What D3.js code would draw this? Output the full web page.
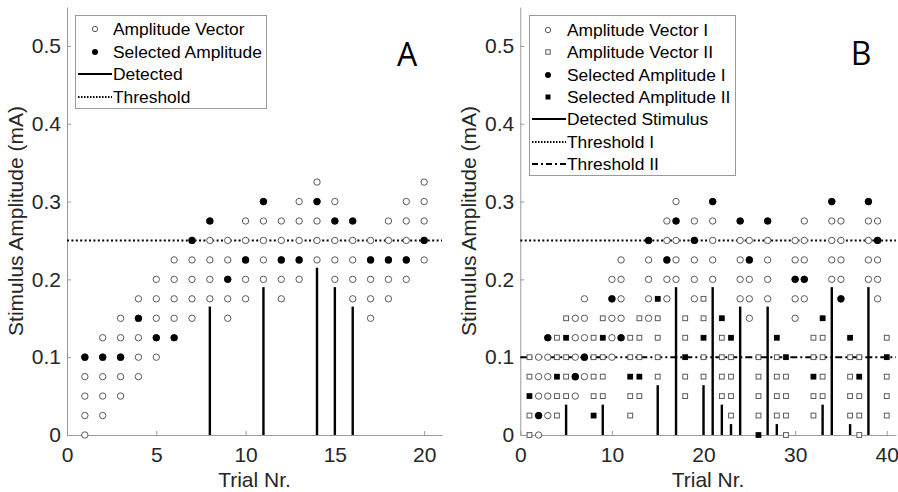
<!DOCTYPE html>
<html>
<head>
<meta charset="utf-8">
<script src="https://cdn.jsdelivr.net/npm/d3@7"></script>
<style>
  body { margin: 0; background: #fff; }
  text { font-family: "Liberation Sans", Arial, sans-serif; }
</style>
</head>
<body>
<svg id="chart" width="898" height="492"></svg>
<script>
// ---- data, panel A ----
const trialsA = [1, 2, 3, 4, 5, 6, 7, 8, 9, 10, 11, 12, 13, 14, 15, 16, 17, 18, 19, 20];
const vectorA = [
  [0, 0.025, 0.05, 0.075, 0.1],
  [0.025, 0.05, 0.075, 0.1, 0.125],
  [0.05, 0.075, 0.1, 0.125, 0.15],
  [0.075, 0.1, 0.125, 0.15, 0.175],
  [0.1, 0.125, 0.15, 0.175, 0.2],
  [0.125, 0.15, 0.175, 0.2, 0.225],
  [0.15, 0.175, 0.2, 0.225, 0.25],
  [0.175, 0.2, 0.225, 0.25, 0.275],
  [0.15, 0.175, 0.2, 0.225, 0.25],
  [0.175, 0.2, 0.225, 0.25, 0.275],
  [0.2, 0.225, 0.25, 0.275, 0.3],
  [0.175, 0.2, 0.225, 0.25, 0.275],
  [0.2, 0.225, 0.25, 0.275, 0.3],
  [0.225, 0.25, 0.275, 0.3, 0.325],
  [0.2, 0.225, 0.25, 0.275, 0.3],
  [0.175, 0.2, 0.225, 0.25, 0.275],
  [0.15, 0.175, 0.2, 0.225, 0.25],
  [0.175, 0.2, 0.225, 0.25, 0.275],
  [0.2, 0.225, 0.25, 0.275, 0.3],
  [0.225, 0.25, 0.275, 0.3, 0.325]
];
const selectedA = [0.1, 0.1, 0.1, 0.15, 0.125, 0.125, 0.25, 0.275, 0.2, 0.225,
  0.3, 0.225, 0.225, 0.3, 0.275, 0.275, 0.225, 0.225, 0.225, 0.25];
const detectedTrialsA = [8, 11, 14, 15, 16];
const detectedA = [0.165, 0.19, 0.215, 0.19, 0.165];
const thresholdA = 0.25;

// ---- data, panel B ----
const trialsB = [1, 2, 3, 4, 5, 6, 7, 8, 9, 10, 11, 12, 13, 14, 15, 16, 17, 18, 19, 20,
  21, 22, 23, 24, 25, 26, 27, 28, 29, 30, 31, 32, 33, 34, 35, 36, 37, 38, 39, 40];
const typeB = ["II", "I", "I", "II", "II", "I", "I", "II", "II", "I",
  "I", "II", "II", "I", "II", "I", "I", "II", "I", "II",
  "I", "II", "II", "I", "I", "II", "I", "II", "II", "I",
  "I", "II", "II", "I", "I", "II", "II", "I", "I", "II"];
const vectorB = [
  [0, 0.025, 0.05, 0.075, 0.1],
  [0, 0.025, 0.05, 0.075, 0.1],
  [0.025, 0.05, 0.075, 0.1, 0.125],
  [0.025, 0.05, 0.075, 0.1, 0.125],
  [0.05, 0.075, 0.1, 0.125, 0.15],
  [0.05, 0.075, 0.1, 0.125, 0.15],
  [0.075, 0.1, 0.125, 0.15, 0.175],
  [0.025, 0.05, 0.075, 0.1, 0.125],
  [0.05, 0.075, 0.1, 0.125, 0.15],
  [0.1, 0.125, 0.15, 0.175, 0.2],
  [0.125, 0.15, 0.175, 0.2, 0.225],
  [0.025, 0.05, 0.075, 0.1, 0.125],
  [0.05, 0.075, 0.1, 0.125, 0.15],
  [0.15, 0.175, 0.2, 0.225, 0.25],
  [0.075, 0.1, 0.125, 0.15, 0.175],
  [0.175, 0.2, 0.225, 0.25, 0.275],
  [0.2, 0.225, 0.25, 0.275, 0.3],
  [0.05, 0.075, 0.1, 0.125, 0.15],
  [0.175, 0.2, 0.225, 0.25, 0.275],
  [0.075, 0.1, 0.125, 0.15, 0.175],
  [0.2, 0.225, 0.25, 0.275, 0.3],
  [0.05, 0.075, 0.1, 0.125, 0.15],
  [0.025, 0.05, 0.075, 0.1, 0.125],
  [0.175, 0.2, 0.225, 0.25, 0.275],
  [0.15, 0.175, 0.2, 0.225, 0.25],
  [0, 0.025, 0.05, 0.075, 0.1],
  [0.175, 0.2, 0.225, 0.25, 0.275],
  [0.025, 0.05, 0.075, 0.1, 0.125],
  [0, 0.025, 0.05, 0.075, 0.1],
  [0.15, 0.175, 0.2, 0.225, 0.25],
  [0.175, 0.2, 0.225, 0.25, 0.275],
  [0.025, 0.05, 0.075, 0.1, 0.125],
  [0.05, 0.075, 0.1, 0.125, 0.15],
  [0.2, 0.225, 0.25, 0.275, 0.3],
  [0.175, 0.2, 0.225, 0.25, 0.275],
  [0.025, 0.05, 0.075, 0.1, 0.125],
  [0, 0.025, 0.05, 0.075, 0.1],
  [0.2, 0.225, 0.25, 0.275, 0.3],
  [0.175, 0.2, 0.225, 0.25, 0.275],
  [0.025, 0.05, 0.075, 0.1, 0.125]
];
const selectedB = [0.05, 0.025, 0.125, 0.075, 0.125, 0.075, 0.1, 0.025, 0.125, 0.175,
  0.125, 0.075, 0.075, 0.25, 0.175, 0.225, 0.275, 0.1, 0.25, 0.125,
  0.3, 0.15, 0.125, 0.275, 0.225, 0, 0.275, 0.125, 0.1, 0.2,
  0.2, 0.075, 0.15, 0.3, 0.175, 0.125, 0.075, 0.3, 0.25, 0.1];
const detectedTrialsB = [5, 9, 15, 17, 20, 21, 22, 23, 24, 27, 28, 33, 34, 36, 38];
const detectedB = [0.039, 0.039, 0.064, 0.19, 0.064, 0.19, 0.039, 0.014, 0.165, 0.165,
  0.014, 0.039, 0.19, 0.014, 0.19];
const thresholdB1 = 0.25;
const thresholdB2 = 0.1;

// ---- ticks ----
const yTicks = [0, 0.1, 0.2, 0.3, 0.4, 0.5];
const yTickLabels = ["0", "0.1", "0.2", "0.3", "0.4", "0.5"];
const xTicksA = [0, 5, 10, 15, 20];
const xTicksB = [0, 10, 20, 30, 40];

const svg = d3.select("#chart");
const plotTop = 7, plotBottom = 435;
const axisColor = "#9a9a9a";
const textColor = "#262626";
const openStroke = "#5a5a5a";

const y = d3.scaleLinear().domain([0, 0.55]).range([plotBottom, plotTop]);
const xA = d3.scaleLinear().domain([0, 21]).range([67, 442]);
const xB = d3.scaleLinear().domain([0, 41]).range([520.3, 895.9]);

function drawAxes(x, xTicks) {
  const g = svg.append("g");
  const ax = g.append("g")
    .attr("transform", `translate(0,${plotBottom})`)
    .call(d3.axisBottom(x).tickValues(xTicks).tickSize(-4).tickSizeOuter(0).tickPadding(12));
  const ay = g.append("g")
    .attr("transform", `translate(${x.range()[0]},0)`)
    .call(d3.axisLeft(y).tickValues(yTicks).tickFormat((d, i) => yTickLabels[i])
      .tickSize(-4).tickSizeOuter(0).tickPadding(6));
  [ax, ay].forEach(a => {
    a.select(".domain").attr("stroke", axisColor);
    a.selectAll(".tick line").attr("stroke", axisColor);
    a.selectAll(".tick text").attr("fill", textColor).style("font-size", "21px")
      .style("font-family", "'Liberation Sans', Arial, sans-serif");
  });

  // axis titles
  const cx = (x.range()[0] + x.range()[1]) / 2;
  g.append("text")
    .attr("x", cx).attr("y", 487)
    .attr("text-anchor", "middle")
    .attr("fill", textColor).style("font-size", "21px")
    .text("Trial Nr.");
  g.append("text")
    .attr("transform", `translate(${x.range()[0] - 44},${(plotTop + plotBottom) / 2}) rotate(-90)`)
    .attr("text-anchor", "middle")
    .attr("fill", textColor).style("font-size", "21px")
    .text("Stimulus Amplitude (mA)");
}

function hline(x, value, dash) {
  svg.append("line")
    .attr("x1", x.range()[0]).attr("x2", x.range()[1])
    .attr("y1", y(value)).attr("y2", y(value))
    .attr("stroke", "#000").attr("stroke-width", 2)
    .attr("stroke-dasharray", dash);
}

function detectedLines(x, trials, heights) {
  svg.append("g").selectAll("line")
    .data(trials)
    .join("line")
    .attr("x1", d => x(d)).attr("x2", d => x(d))
    .attr("y1", y(0)).attr("y2", (d, i) => y(heights[i]))
    .attr("stroke", "#000").attr("stroke-width", 2.4);
}

function openMarker(g, shape, cx, cy, size) {
  if (shape === "I") {
    g.append("circle").attr("cx", cx).attr("cy", cy).attr("r", size)
      .attr("fill", "#fff").attr("stroke", openStroke).attr("stroke-width", 1);
  } else {
    g.append("rect").attr("x", cx - size).attr("y", cy - size)
      .attr("width", size * 2).attr("height", size * 2)
      .attr("fill", "#fff").attr("stroke", openStroke).attr("stroke-width", 1);
  }
}

function filledMarker(g, shape, cx, cy, size) {
  if (shape === "I") {
    g.append("circle").attr("cx", cx).attr("cy", cy).attr("r", size).attr("fill", "#000");
  } else {
    g.append("rect").attr("x", cx - size).attr("y", cy - size)
      .attr("width", size * 2).attr("height", size * 2).attr("fill", "#000");
  }
}

// ---------------- Panel A ----------------
drawAxes(xA, xTicksA);
hline(xA, thresholdA, "2,2.4");
detectedLines(xA, detectedTrialsA, detectedA);

const marksA = svg.append("g");
trialsA.forEach((t, i) => {
  vectorA[i].forEach(v => openMarker(marksA, "I", xA(t), y(v), 3.2));
});
trialsA.forEach((t, i) => filledMarker(marksA, "I", xA(t), y(selectedA[i]), 3.6));

// legend A
const legA = svg.append("g");
legA.append("rect").attr("x", 75.5).attr("y", 15.5).attr("width", 191).attr("height", 93)
  .attr("fill", "#fff").attr("stroke", axisColor);
const legARows = [29, 52, 74, 97];
openMarker(legA, "I", 95, legARows[0], 2.7);
filledMarker(legA, "I", 95, legARows[1], 3);
legA.append("line").attr("x1", 78).attr("x2", 112).attr("y1", legARows[2]).attr("y2", legARows[2])
  .attr("stroke", "#000").attr("stroke-width", 2);
legA.append("line").attr("x1", 78).attr("x2", 112).attr("y1", legARows[3]).attr("y2", legARows[3])
  .attr("stroke", "#000").attr("stroke-width", 2).attr("stroke-dasharray", "1.5,1.5");
["Amplitude Vector", "Selected Amplitude", "Detected", "Threshold"].forEach((s, i) => {
  legA.append("text").attr("x", 113).attr("y", legARows[i] + 6)
    .attr("fill", "#000").style("font-size", "17.4px").text(s);
});
svg.append("text").attr("x", 407).attr("y", 66).attr("text-anchor", "middle")
  .attr("fill", "#000").style("font-size", "32px").style("font-family", "'Open Sans', 'Liberation Sans', sans-serif")
  .text("A");

// ---------------- Panel B ----------------
drawAxes(xB, xTicksB);
hline(xB, thresholdB1, "2,2.4");
hline(xB, thresholdB2, "7,3,2,3");
detectedLines(xB, detectedTrialsB, detectedB);

const marksB = svg.append("g");
trialsB.forEach((t, i) => {
  vectorB[i].forEach(v => openMarker(marksB, typeB[i], xB(t), y(v), typeB[i] === "I" ? 3.2 : 2.4));
});
trialsB.forEach((t, i) => filledMarker(marksB, typeB[i], xB(t), y(selectedB[i]), typeB[i] === "I" ? 3.6 : 2.7));

// legend B
const legB = svg.append("g");
legB.append("rect").attr("x", 529.5).attr("y", 15.5).attr("width", 206).attr("height", 160)
  .attr("fill", "#fff").attr("stroke", axisColor);
const legBRows = [30, 52, 75, 97, 119, 142, 164];
openMarker(legB, "I", 548, legBRows[0], 2.7);
openMarker(legB, "II", 548, legBRows[1], 2.2);
filledMarker(legB, "I", 548, legBRows[2], 3);
filledMarker(legB, "II", 548, legBRows[3], 2.5);
legB.append("line").attr("x1", 532).attr("x2", 566).attr("y1", legBRows[4]).attr("y2", legBRows[4])
  .attr("stroke", "#000").attr("stroke-width", 2);
legB.append("line").attr("x1", 532).attr("x2", 566).attr("y1", legBRows[5]).attr("y2", legBRows[5])
  .attr("stroke", "#000").attr("stroke-width", 2).attr("stroke-dasharray", "1.5,1.5");
legB.append("line").attr("x1", 532).attr("x2", 566).attr("y1", legBRows[6]).attr("y2", legBRows[6])
  .attr("stroke", "#000").attr("stroke-width", 2).attr("stroke-dasharray", "6,3,2,3");
["Amplitude Vector I", "Amplitude Vector II", "Selected Amplitude I", "Selected Amplitude II",
  "Detected Stimulus", "Threshold I", "Threshold II"].forEach((s, i) => {
  legB.append("text").attr("x", 567).attr("y", legBRows[i] + 6)
    .attr("fill", "#000").style("font-size", "17.4px").text(s);
});
svg.append("text").attr("x", 861).attr("y", 65).attr("text-anchor", "middle")
  .attr("fill", "#000").style("font-size", "32px").style("font-family", "'Open Sans', 'Liberation Sans', sans-serif")
  .text("B");
</script>
</body>
</html>
